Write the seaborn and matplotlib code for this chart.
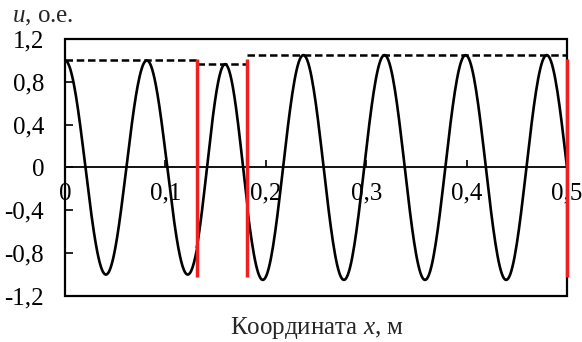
import matplotlib

matplotlib.use("Agg")

import matplotlib.pyplot as plt
import numpy as np
import pandas as pd
import seaborn as sns
from matplotlib.patches import Rectangle

# segments of the wave
seg_bounds = [0.0, 0.1312, 0.1817, 0.5]
seg_amp = [1.0, 0.965, 1.05]
seg_wavelength = [0.0815, 0.072, 0.0808]
seg_peak = [0.0, 0.1594, 0.2374]

# red boundary markers
red_x = [0.1312, 0.1817, 0.5]
red_low = -1.02
red_high = 1.01

x_ticks = [0.0, 0.1, 0.2, 0.3, 0.4, 0.5]
x_tick_labels = ["0", "0,1", "0,2", "0,3", "0,4", "0,5"]
y_ticks = [-1.2, -0.8, -0.4, 0.0, 0.4, 0.8, 1.2]
y_tick_labels = ["-1,2", "-0,8", "-0,4", "0", "0,4", "0,8", "1,2"]


def build_curve() -> pd.DataFrame:
    parts = []
    for i in range(len(seg_amp)):
        xs = np.linspace(seg_bounds[i], seg_bounds[i + 1], 300)
        us = seg_amp[i] * np.cos(2 * np.pi * (xs - seg_peak[i]) / seg_wavelength[i])
        parts.append(pd.DataFrame({"x": xs, "u": us, "segment": i}))
    return pd.concat(parts, ignore_index=True)


def main() -> None:
    sns.set_theme(style="white")
    plt.rcParams["font.family"] = ["Liberation Serif", "DejaVu Serif"]
    plt.rcParams["mathtext.fontset"] = "custom"
    plt.rcParams["mathtext.rm"] = "Liberation Serif"
    plt.rcParams["mathtext.it"] = "Liberation Serif:italic"

    fs = 18
    fig = plt.figure(figsize=(5.82, 3.42), dpi=100)
    ax = fig.add_axes([0.1117, 0.1345, 0.8625, 0.7515])

    curve = build_curve()
    sns.lineplot(data=curve, x="x", y="u", units="segment", estimator=None,
                 color="black", linewidth=1.9, ax=ax, legend=False)

    for i in range(len(seg_amp)):
        ax.plot([seg_bounds[i], seg_bounds[i + 1]], [seg_amp[i], seg_amp[i]],
                color="black", linewidth=1.8, linestyle=(0, (3, 1.5)))

    for xr in red_x:
        ax.plot([xr, xr], [red_low, red_high], color="#f02020",
                linewidth=2.5, clip_on=False, zorder=5, solid_capstyle="butt")

    ax.set_xlim(0, 0.5)
    ax.set_ylim(-1.2, 1.2)
    ax.set_xticks(x_ticks)
    ax.set_xticklabels(x_tick_labels)
    ax.set_yticks(y_ticks)
    ax.set_yticklabels(y_tick_labels)
    ax.set_xlabel("")
    ax.set_ylabel("")

    for side in ["top", "right", "left"]:
        ax.spines[side].set_visible(False)
    ax.spines["bottom"].set_position(("data", 0))
    ax.spines["bottom"].set_color("black")
    ax.spines["bottom"].set_linewidth(1.3)
    ax.add_patch(Rectangle((0, 0), 1, 1, transform=ax.transAxes, fill=False,
                           edgecolor="black", linewidth=1.6, clip_on=False))

    ax.tick_params(axis="x", direction="in", length=5, width=1.2, pad=11,
                   labelsize=fs, colors="black", bottom=True)
    ax.tick_params(axis="y", direction="in", length=6, width=1.2, pad=15,
                   labelsize=fs, colors="black", left=True)

    fig.text(12 / 582, 1 - 22 / 342, "$\\mathit{u}$, о.е.", fontsize=fs,
             va="baseline", ha="left")
    fig.text(317 / 582, 1 - 334 / 342, "Координата $\\mathit{x}$, м",
             fontsize=fs, va="baseline", ha="center")

    fig.savefig("out.png", dpi=100)
    plt.close(fig)


if __name__ == "__main__":
    main()
